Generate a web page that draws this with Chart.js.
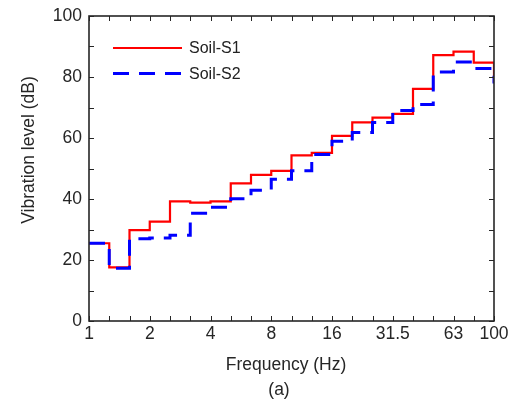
<!DOCTYPE html>
<html>
<head>
<meta charset="utf-8">
<script src="https://cdn.jsdelivr.net/npm/chart.js@4"></script>
<style>
  body { margin: 0; background: #fff; }
</style>
</head>
<body>
<canvas id="myChart" width="508" height="401"></canvas>
<script>
// 1/3 octave band centres (Hz), one stair per band
let bandFreq = [1, 1.25, 1.6, 2, 2.5, 3.15, 4, 5, 6.3, 8, 10, 12.5, 16, 20, 25, 31.5, 40, 50, 63, 80, 100];
let soilS1 = [25.5, 17.6, 29.8, 32.6, 39.2, 38.8, 39.2, 45.1, 47.9, 49.2, 54.3, 55.1, 60.7, 65.1, 66.7, 67.9, 76.1, 87.2, 88.3, 84.7, 78.2];
let soilS2 = [25.5, 17.3, 27.0, 27.2, 28.1, 35.3, 37.3, 40.1, 42.9, 46.5, 49.3, 54.6, 58.9, 61.8, 65.1, 69.0, 71.0, 81.6, 84.9, 82.8, 77.9];
let xTickLabels = ['1', '2', '4', '8', '16', '31.5', '63', '100'];
let yTicks = [0, 20, 40, 60, 80, 100];

let FONT = 'Liberation Sans, Arial, sans-serif';
let INK = '#262626';

function pts(vals){
    return vals.map(function(v, i){ return {x: i, y: v}; });
}

// frame, inward ticks, titles and legend
let deco = {
    id: 'deco',
    afterDraw: function(chart){
        let ctx = chart.ctx;
        let a = chart.chartArea;
        let xs = chart.scales.x, ys = chart.scales.y;
        ctx.save();
        ctx.strokeStyle = INK;
        ctx.lineWidth = 1;
        xs.ticks.forEach(function(t){
            let px = Math.round(xs.getPixelForValue(t.value)) + 0.5;
            ctx.beginPath();
            ctx.moveTo(px, a.bottom); ctx.lineTo(px, a.bottom - 5);
            ctx.moveTo(px, a.top); ctx.lineTo(px, a.top + 5);
            ctx.stroke();
        });
        ys.ticks.forEach(function(t){
            let py = Math.round(ys.getPixelForValue(t.value)) + 0.5;
            ctx.beginPath();
            ctx.moveTo(a.left, py); ctx.lineTo(a.left + 5, py);
            ctx.moveTo(a.right, py); ctx.lineTo(a.right - 5, py);
            ctx.stroke();
        });
        ctx.lineWidth = 1.6;
        ctx.strokeRect(a.left, a.top, a.right - a.left, a.bottom - a.top);

        // axis titles
        ctx.fillStyle = INK;
        ctx.font = '17.5px ' + FONT;
        ctx.textAlign = 'center';
        ctx.textBaseline = 'alphabetic';
        ctx.fillText('Frequency (Hz)', 286, 370);
        ctx.fillText('(a)', 279, 395);
        ctx.save();
        ctx.translate(34, 150);
        ctx.rotate(-Math.PI / 2);
        ctx.fillText('Vibration level (dB)', 0, 0);
        ctx.restore();

        // legend
        ctx.font = '16px ' + FONT;
        ctx.textAlign = 'left';
        ctx.textBaseline = 'middle';
        chart.data.datasets.forEach(function(ds, i){
            let ly = 48 + i * 25.5;
            ctx.save();
            ctx.strokeStyle = ds.borderColor;
            ctx.lineWidth = ds.borderWidth;
            ctx.setLineDash(ds.borderDash || []);
            ctx.beginPath();
            ctx.moveTo(113, ly); ctx.lineTo(182, ly);
            ctx.stroke();
            ctx.restore();
            ctx.fillStyle = '#222';
            ctx.fillText(ds.label, 189, ly + 1);
        });
        ctx.restore();
    }
};

var ctx = document.getElementById('myChart').getContext('2d');
var chart = new Chart(ctx, {
    type: 'line',
    data: {
        datasets: [
            {
                label: 'Soil-S1',
                data: pts(soilS1),
                borderColor: '#ff0000',
                borderWidth: 2.2,
                stepped: 'before',
                pointRadius: 0,
                order: 2
            },
            {
                label: 'Soil-S2',
                data: pts(soilS2),
                borderColor: '#0000ff',
                borderWidth: 3,
                borderDash: [16, 10],
                stepped: 'before',
                pointRadius: 0,
                order: 1
            }
        ]
    },
    options: {
        responsive: false,
        animation: false,
        layout: { padding: { left: 0, right: 14, top: 16, bottom: 0 } },
        plugins: { legend: { display: false }, tooltip: { enabled: false } },
        scales: {
            x: {
                type: 'linear',
                min: 0,
                max: bandFreq.length - 1,
                afterBuildTicks: function(s){
                    s.ticks = bandFreq.map(function(f, i){ return {value: i}; });
                },
                afterFit: function(s){
                    s.height = 80;
                    s.paddingLeft = 0;
                    s.paddingRight = 0;
                },
                grid: { display: false, drawTicks: false },
                border: { display: false },
                ticks: {
                    autoSkip: false,
                    maxRotation: 0,
                    padding: 3,
                    color: INK,
                    font: { family: FONT, size: 17.5 },
                    callback: function(v){
                        let f = String(bandFreq[v]);
                        return xTickLabels.indexOf(f) >= 0 ? f : '';
                    }
                }
            },
            y: {
                min: 0,
                max: 100,
                afterBuildTicks: function(s){
                    let t = [];
                    for (let v = 0; v <= 100; v += 10) t.push({value: v});
                    s.ticks = t;
                },
                afterFit: function(s){
                    s.width = 89;
                    s.paddingTop = 0;
                    s.paddingBottom = 0;
                },
                grid: { display: false, drawTicks: false },
                border: { display: false },
                ticks: {
                    padding: 7,
                    color: INK,
                    font: { family: FONT, size: 17.5 },
                    callback: function(v){
                        return yTicks.indexOf(v) >= 0 ? String(v) : '';
                    }
                }
            }
        }
    },
    plugins: [deco]
});
</script>
</body>
</html>
